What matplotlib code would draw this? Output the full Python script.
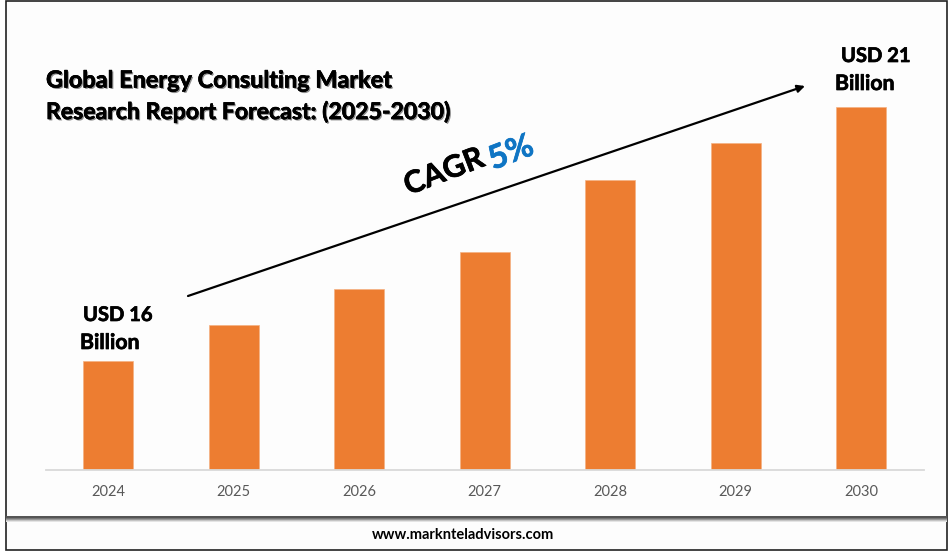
import matplotlib.pyplot as plt
import matplotlib.patheffects as pe
from matplotlib.patches import Rectangle

years = ['2024', '2025', '2026', '2027', '2028', '2029', '2030']
# relative bar heights, the chart has no value axis
heights = [3, 4, 5, 6, 8, 9, 10]

W, H = 950, 553
plt.rcParams['font.family'] = ['Lato', 'DejaVu Sans']


def fx(x):
    return x / W


def fy(y):
    return 1 - y / H


fig = plt.figure(figsize=(W / 100, H / 100), dpi=100, facecolor='white')

# outer frame and footer band, kept behind the axes
fig.add_artist(Rectangle((fx(6), fy(550)), fx(941), 549 / H, transform=fig.transFigure,
                         facecolor='#fdfdfd', edgecolor='#222222', lw=1.2, zorder=-2))
for i, c in enumerate(['#555555', '#555555', '#777777', '#999999', '#c4c4c4', '#e4e4e4']):
    fig.add_artist(Rectangle((fx(6), fy(517 + i)), fx(941), 1 / H, transform=fig.transFigure,
                             facecolor=c, edgecolor='none', zorder=-1))

ax = fig.add_axes([fx(45.5), fy(470), fx(878.5), 380 / H])
ax.patch.set_alpha(0)
ax.bar(years, heights, width=0.4, color='#ed7d31', edgecolor='#f4b183', linewidth=0.5)
ax.set_xlim(-0.5, 6.5)
ax.set_ylim(0, 380 / 36.3)
ax.set_yticks([])
for s in ['top', 'left', 'right']:
    ax.spines[s].set_visible(False)
ax.spines['bottom'].set_color('#d9d9d9')
ax.spines['bottom'].set_linewidth(1.3)
ax.tick_params(axis='x', length=0, pad=11, labelsize=10.5, labelcolor='#595959')

heavy = [pe.withStroke(linewidth=0.5, foreground='black')]
shadow = [pe.withSimplePatchShadow(offset=(1, -1), shadow_rgbFace='#444444', alpha=0.6),
          pe.withStroke(linewidth=0.4, foreground='black')]
fig.text(fx(46), fy(81), 'Global Energy Consulting Market', fontsize=16.9, fontweight='bold',
         color='black', va='center', path_effects=shadow)
fig.text(fx(46), fy(112), 'Research Report Forecast: (2025-2030)', fontsize=16.6,
         fontweight='bold', color='black', va='center', path_effects=shadow)

fig.text(fx(83), fy(315), 'USD 16', fontsize=14.5, fontweight='bold', va='center', path_effects=heavy)
fig.text(fx(80), fy(343), 'Billion', fontsize=15.3, fontweight='bold', va='center', path_effects=heavy)
fig.text(fx(841), fy(56), 'USD 21', fontsize=14.5, fontweight='bold', va='center', path_effects=heavy)
fig.text(fx(835), fy(84), 'Billion', fontsize=15.3, fontweight='bold', va='center', path_effects=heavy)

fig.text(fx(444), fy(172), 'CAGR', fontsize=22, fontweight='bold', color='black',
         rotation=21, ha='center', va='center', rotation_mode='anchor', path_effects=heavy)
fig.text(fx(511), fy(153), '5%', fontsize=23.5, fontweight='bold', color='#0f75c4',
         rotation=21, ha='center', va='center', rotation_mode='anchor',
         path_effects=[pe.withStroke(linewidth=0.5, foreground='#0f75c4')])

ax.annotate('', xy=(fx(805), fy(86)), xytext=(fx(188), fy(296)),
            xycoords='figure fraction', textcoords='figure fraction',
            arrowprops=dict(arrowstyle='-|>', color='black', lw=1.6,
                            mutation_scale=11, shrinkA=0, shrinkB=0))

fig.text(fx(463.5), fy(535), 'www.marknteladvisors.com', fontsize=10.5, fontweight='bold',
         ha='center', va='center')

fig.savefig('out.png', dpi=100)
